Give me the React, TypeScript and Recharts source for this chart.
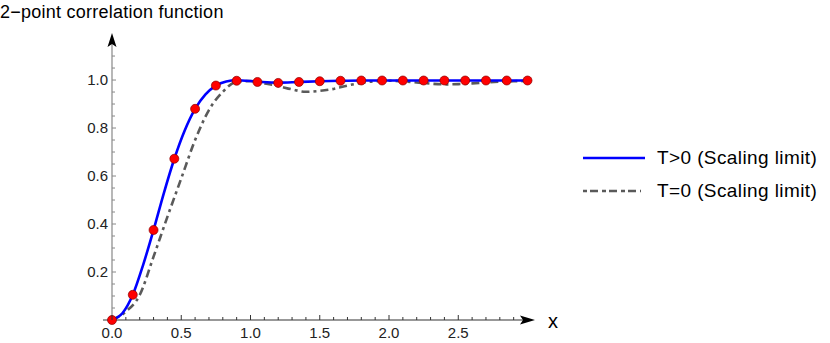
import React from 'react';
import { ComposedChart, Line, Scatter, XAxis, YAxis, Legend } from 'recharts';

// sample points (red dots) and the T>0 curve
const sampleX = [0, 0.15, 0.3, 0.45, 0.6, 0.75, 0.9, 1.05, 1.2, 1.35, 1.5, 1.65, 1.8, 1.95, 2.1, 2.25, 2.4, 2.55, 2.7, 2.85, 3.0];
const sampleY = [0, 0.105, 0.375, 0.672, 0.88, 0.977, 0.997, 0.992, 0.988, 0.992, 0.995, 0.997, 0.998, 0.998, 0.998, 0.998, 0.998, 0.998, 0.998, 0.998, 0.998];

const blueX = [0, 0.075, 0.15, 0.225, 0.3, 0.375, 0.45, 0.525, 0.6, 0.675, 0.75, 0.825, 0.9, 1.05, 1.2, 1.35, 1.5, 1.65, 1.8, 2.1, 2.4, 2.7, 3.0];
const blueY = [0, 0.028, 0.105, 0.23, 0.375, 0.53, 0.672, 0.79, 0.88, 0.94, 0.977, 0.994, 0.999, 0.993, 0.989, 0.992, 0.995, 0.997, 0.998, 0.998, 0.998, 0.998, 0.998];

// T=0 curve
const grayX = [0, 0.1, 0.2, 0.3, 0.4, 0.5, 0.6, 0.7, 0.8, 0.9, 1.0, 1.1, 1.2, 1.3, 1.4, 1.5, 1.6, 1.7, 1.8, 1.9, 2.0, 2.1, 2.2, 2.3, 2.4, 2.5, 2.6, 2.7, 2.8, 2.9, 3.0];
const grayY = [0, 0.035, 0.104, 0.264, 0.43, 0.59, 0.75, 0.875, 0.951, 0.993, 0.996, 0.986, 0.975, 0.961, 0.951, 0.955, 0.963, 0.977, 0.988, 0.995, 0.997, 0.995, 0.99, 0.985, 0.982, 0.983, 0.986, 0.99, 0.993, 0.995, 0.996];

const xTicks = [0, 0.1, 0.2, 0.3, 0.4, 0.5, 0.6, 0.7, 0.8, 0.9, 1.0, 1.1, 1.2, 1.3, 1.4, 1.5, 1.6, 1.7, 1.8, 1.9, 2.0, 2.1, 2.2, 2.3, 2.4, 2.5, 2.6, 2.7, 2.8, 2.9];
const yTicks = [0.05, 0.1, 0.15, 0.2, 0.25, 0.3, 0.35, 0.4, 0.45, 0.5, 0.55, 0.6, 0.65, 0.7, 0.75, 0.8, 0.85, 0.9, 0.95, 1.0, 1.05, 1.1];

const SERIES = ['T>0 (Scaling limit)', 'T=0 (Scaling limit)'];
const TITLE = '2\u2212point correlation function';

const samples = sampleX.map((x, i) => ({ x, y: sampleY[i] }));
const blueData = blueX.map((x, i) => ({ x, y: blueY[i] }));
const grayData = grayX.map((x, i) => ({ x, y: grayY[i] }));

const FONT = '"Liberation Sans", Arial, sans-serif';
const AXIS_X = '#333';
const AXIS_Y = '#888';
const GRAY = '#5a5a5a';
const DASH = '8 4 3 4';

const isMult = (v: number, step: number) => Math.abs(v / step - Math.round(v / step)) < 1e-6;

const XTick = (props: any) => {
  const { x, y, payload } = props;
  const major = isMult(payload.value, 0.5);
  return (
    <g>
      <line x1={x} x2={x} y1={y} y2={y - (major ? 5 : 3)} stroke={AXIS_X} strokeWidth={1} />
      {major && (
        <text x={x} y={y + 18} textAnchor="middle" fontSize={15} fill="#222" fontFamily={FONT}>
          {payload.value.toFixed(1)}
        </text>
      )}
    </g>
  );
};

const YTick = (props: any) => {
  const { x, y, payload } = props;
  const major = isMult(payload.value, 0.2);
  return (
    <g>
      <line x1={x} x2={x + (major ? 4 : 3)} y1={y} y2={y} stroke={AXIS_Y} strokeWidth={1} />
      {major && (
        <text x={x - 4} y={y + 5} textAnchor="end" fontSize={15} fill="#222" fontFamily={FONT}>
          {payload.value.toFixed(1)}
        </text>
      )}
    </g>
  );
};

const XAxisDecor = (props: any) => {
  const { x, y, width } = props.viewBox;
  const tip = x + width;
  return (
    <g>
      <line x1={x - 9} x2={tip - 10} y1={y} y2={y} stroke={AXIS_X} strokeWidth={1.2} />
      <polygon points={`${tip},${y} ${tip - 15},${y - 4.5} ${tip - 12},${y} ${tip - 15},${y + 4.5}`} fill="#000" />
      <text x={tip + 13} y={y + 8} fontSize={20} fill="#000" fontFamily={FONT}>x</text>
    </g>
  );
};

const YAxisDecor = (props: any) => {
  const { x, y, width, height } = props.viewBox;
  const ax = x + width;
  return (
    <g>
      <line x1={ax} x2={ax} y1={y + 10} y2={y + height} stroke={AXIS_Y} strokeWidth={1.2} />
      <polygon points={`${ax},${y} ${ax - 4.5},${y + 14} ${ax},${y + 11} ${ax + 4.5},${y + 14}`} fill="#000" />
      <text x={0} y={18} fontSize={18} letterSpacing={0.25} fill="#000" fontFamily={FONT}>{TITLE}</text>
    </g>
  );
};

const LegendBox = () => (
  <div style={{ fontFamily: FONT, fontSize: 19, letterSpacing: 0.4, color: '#000' }}>
    {SERIES.map((name, i) => (
      <div key={name} style={{ display: 'flex', alignItems: 'center', height: 33 }}>
        <svg width={74} height={10} style={{ display: 'block' }}>
          <line
            x1={0}
            x2={i === 0 ? 62 : 58}
            y1={5}
            y2={5}
            stroke={i === 0 ? '#0000ff' : GRAY}
            strokeWidth={i === 0 ? 2.5 : 2.4}
            strokeDasharray={i === 0 ? undefined : '4 3 8 4'}
          />
        </svg>
        <span style={{ whiteSpace: 'nowrap' }}>{name}</span>
      </div>
    ))}
  </div>
);

export default function App() {
  return (
    <div style={{ position: 'absolute', left: 0, top: 0 }}>
      <ComposedChart width={830} height={343} margin={{ top: 33, right: 295, bottom: 0, left: 0 }}>
        <XAxis
          type="number"
          dataKey="x"
          domain={[0, 3.054]}
          ticks={xTicks}
          interval={0}
          height={23}
          tickSize={0}
          tickMargin={0}
          axisLine={false}
          tickLine={false}
          tick={<XTick />}
          label={{ content: <XAxisDecor /> } as any}
        />
        <YAxis
          type="number"
          dataKey="y"
          domain={[0, 1.196]}
          ticks={yTicks}
          interval={0}
          width={112}
          tickSize={0}
          tickMargin={0}
          axisLine={false}
          tickLine={false}
          tick={<YTick />}
          label={{ content: <YAxisDecor /> } as any}
        />
        <Legend
          layout="horizontal"
          verticalAlign="middle"
          align="center"
          wrapperStyle={{ left: 583, top: 141, width: 245 }}
          content={() => <LegendBox />}
        />
        <Line
          data={grayData}
          dataKey="y"
          name={SERIES[1]}
          type="monotone"
          stroke={GRAY}
          strokeWidth={2.6}
          strokeDasharray={DASH}
          dot={false}
          isAnimationActive={false}
        />
        <Line
          data={blueData}
          dataKey="y"
          name={SERIES[0]}
          type="monotone"
          stroke="#0000ff"
          strokeWidth={2.6}
          dot={false}
          isAnimationActive={false}
        />
        <Scatter
          data={samples}
          dataKey="y"
          fill="#ff0000"
          legendType="none"
          shape={(p: any) => <circle cx={p.cx} cy={p.cy} r={4.5} fill="#ff0000" stroke="#8b0000" strokeWidth={0.7} />}
          isAnimationActive={false}
        />
      </ComposedChart>
    </div>
  );
}
